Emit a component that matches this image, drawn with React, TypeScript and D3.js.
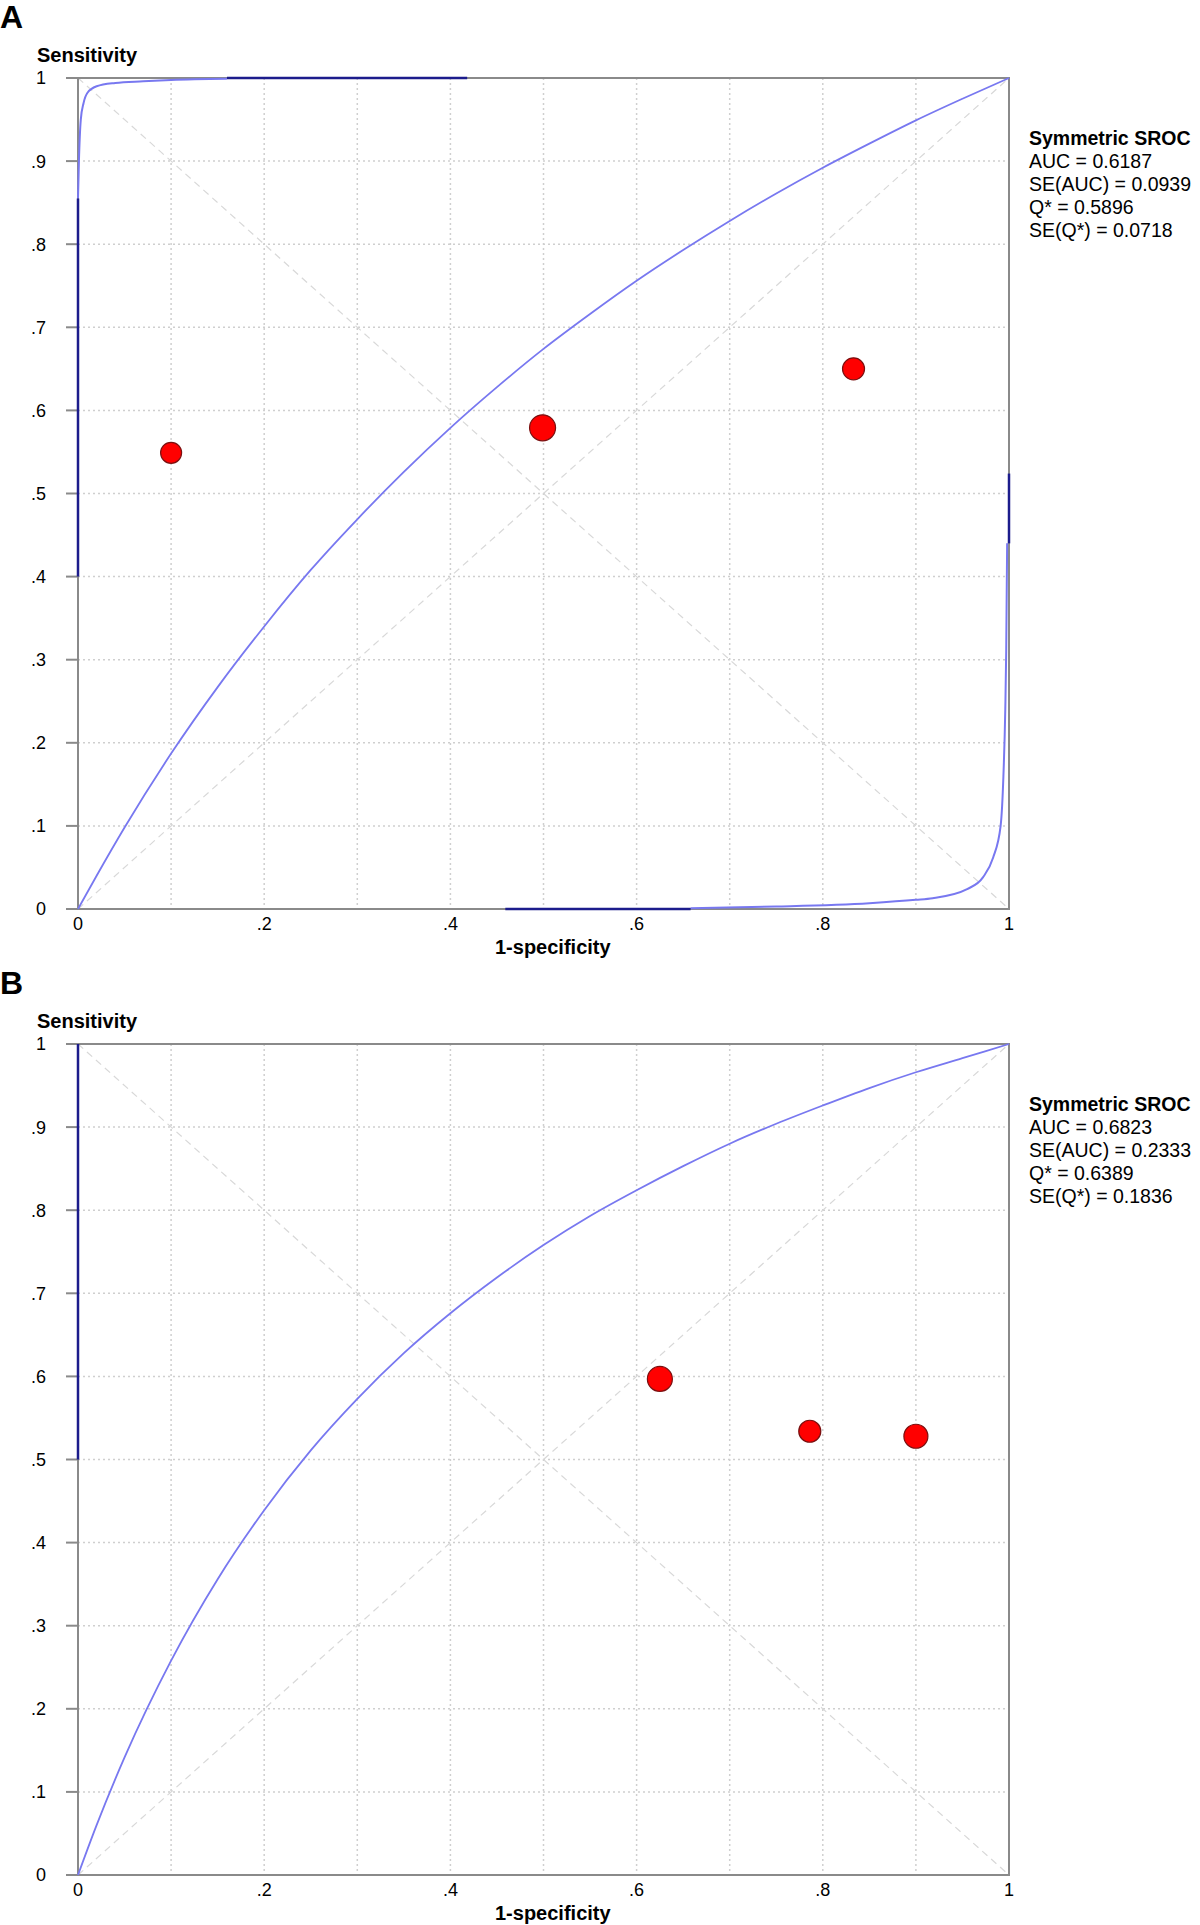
import React from "react";
import * as d3 from "d3";

// ---------- data ----------
const ticks = [0, 0.1, 0.2, 0.3, 0.4, 0.5, 0.6, 0.7, 0.8, 0.9, 1];
const yTickLabels = ["0", ".1", ".2", ".3", ".4", ".5", ".6", ".7", ".8", ".9", "1"];
const xTicks = [0, 0.2, 0.4, 0.6, 0.8, 1];
const xTickLabels = ["0", ".2", ".4", ".6", ".8", "1"];

// Panel A
const aStudyX = [0.1, 0.499, 0.833];
const aStudyY = [0.549, 0.579, 0.65];
const aStudyR = [10.5, 13, 11];
const aCurveX = [0, 0.02, 0.05, 0.1, 0.15, 0.2, 0.25, 0.3, 0.35, 0.4, 0.45, 0.5, 0.55, 0.6, 0.65, 0.7, 0.75, 0.8, 0.85, 0.9, 0.95, 1];
const aCurveY = [0, 0.04, 0.098, 0.187, 0.267, 0.34, 0.408, 0.469, 0.526, 0.579, 0.628, 0.674, 0.716, 0.756, 0.793, 0.828, 0.861, 0.892, 0.921, 0.949, 0.975, 1];
const aUpperX = [0, 0.001, 0.003, 0.006, 0.01, 0.02, 0.04, 0.07, 0.1, 0.16];
const aUpperY = [0.855, 0.9, 0.95, 0.97, 0.982, 0.99, 0.994, 0.996, 0.9976, 0.999];
const aLowerX = [0.658, 0.75, 0.85, 0.9, 0.918, 0.955, 0.972, 0.983, 0.991, 0.994, 0.996, 0.997, 0.998];
const aLowerY = [0.001, 0.003, 0.007, 0.011, 0.013, 0.024, 0.038, 0.062, 0.1, 0.16, 0.24, 0.31, 0.44];
// dark edge segments: [x1, y1, x2, y2]
const aEdges = [
  [0, 0.4, 0, 0.855],
  [0.16, 1, 0.418, 1],
  [0.459, 0, 0.658, 0],
  [1, 0.44, 1, 0.524],
];
const aLegend = ["Symmetric SROC", "AUC = 0.6187", "SE(AUC) = 0.0939", "Q* = 0.5896", "SE(Q*) = 0.0718"];

// Panel B
const bStudyX = [0.625, 0.786, 0.9];
const bStudyY = [0.597, 0.534, 0.528];
const bStudyR = [12.5, 11, 12];
const bCurveX = [0, 0.02, 0.05, 0.1, 0.15, 0.2, 0.25, 0.3, 0.35, 0.4, 0.45, 0.5, 0.55, 0.6, 0.65, 0.7, 0.75, 0.8, 0.85, 0.9, 0.95, 1];
const bCurveY = [0, 0.06, 0.1415, 0.258, 0.356, 0.439, 0.511, 0.573, 0.628, 0.676, 0.719, 0.758, 0.793, 0.824, 0.853, 0.88, 0.904, 0.926, 0.947, 0.966, 0.983, 1];
const bEdges = [[0, 0.5, 0, 1]];
const bLegend = ["Symmetric SROC", "AUC = 0.6823", "SE(AUC) = 0.2333", "Q* = 0.6389", "SE(Q*) = 0.1836"];

// ---------- styles ----------
const FONT = "'Liberation Sans', Arial, Helvetica, sans-serif";
const LIGHT = "#7878f0";
const DARK = "#1c1c8c";
const AXIS = "#8a8a8a";

const L = 78, W = 931, H = 831;

type PanelProps = {
  top: number;
  letter: string;
  sx: number[]; sy: number[]; sr: number[];
  cx: number[]; cy: number[];
  extra: { x: number[]; y: number[] }[];
  edges: number[][];
  legend: string[];
};

function Panel({ top, letter, sx, sy, sr, cx, cy, extra, edges, legend }: PanelProps) {
  const x = d3.scaleLinear().domain([0, 1]).range([L, L + W]);
  const y = d3.scaleLinear().domain([0, 1]).range([top + H, top]);
  const line = d3.line<[number, number]>().x(d => x(d[0])).y(d => y(d[1])).curve(d3.curveMonotoneX);
  const mainPts = cx.map((v, i) => [v, cy[i]] as [number, number]);
  const clipId = "clip" + letter;
  return (
    <g>
      <text x={0} y={top - 50} fontFamily={FONT} fontWeight="bold" fontSize={32}>{letter}</text>
      <text x={37} y={top - 16} fontFamily={FONT} fontWeight="bold" fontSize={20}>Sensitivity</text>
      <defs>
        <clipPath id={clipId}>
          <rect x={L - 1} y={top - 1} width={W + 2} height={H + 2} />
        </clipPath>
      </defs>
      {/* grid */}
      {ticks.slice(1, -1).map(t => (
        <g key={"g" + t}>
          <line x1={x(t)} x2={x(t)} y1={top} y2={top + H} stroke="#cfcfcf" strokeWidth={1.5} strokeDasharray="2,3" />
          <line x1={L} x2={L + W} y1={y(t)} y2={y(t)} stroke="#cfcfcf" strokeWidth={1.5} strokeDasharray="2,3" />
        </g>
      ))}
      {/* diagonals */}
      <line x1={x(0)} y1={y(0)} x2={x(1)} y2={y(1)} stroke="#d8d8d8" strokeWidth={1.2} strokeDasharray="7,5" />
      <line x1={x(0)} y1={y(1)} x2={x(1)} y2={y(0)} stroke="#d8d8d8" strokeWidth={1.2} strokeDasharray="7,5" />
      {/* frame and ticks */}
      <rect x={L} y={top} width={W} height={H} fill="none" stroke={AXIS} strokeWidth={2} />
      {ticks.map(t => (
        <line key={"t" + t} x1={L - 12} x2={L} y1={y(t)} y2={y(t)} stroke={AXIS} strokeWidth={2} />
      ))}
      {/* curves */}
      <g clipPath={`url(#${clipId})`}>
        <path d={line(mainPts) || ""} fill="none" stroke={LIGHT} strokeWidth={1.8} />
        {extra.map((e, k) => (
          <path key={"e" + k} d={line(e.x.map((v, i) => [v, e.y[i]] as [number, number])) || ""}
            fill="none" stroke={LIGHT} strokeWidth={2} />
        ))}
      </g>
      {edges.map((s, k) => (
        <line key={"d" + k} x1={x(s[0])} y1={y(s[1])} x2={x(s[2])} y2={y(s[3])} stroke={DARK} strokeWidth={2.5} />
      ))}
      {/* tick labels */}
      {ticks.map((t, i) => (
        <text key={"yl" + t} x={46} y={y(t)} dy="0.36em" textAnchor="end" fontFamily={FONT} fontSize={18}>{yTickLabels[i]}</text>
      ))}
      {xTicks.map((t, i) => (
        <text key={"xl" + t} x={x(t)} y={top + H + 21} textAnchor="middle" fontFamily={FONT} fontSize={18}>{xTickLabels[i]}</text>
      ))}
      <text x={x(0.51)} y={top + H + 45} textAnchor="middle" fontFamily={FONT} fontWeight="bold" fontSize={20}>1-specificity</text>
      {/* points */}
      {sx.map((v, i) => (
        <circle key={"p" + i} cx={x(v)} cy={y(sy[i])} r={sr[i]} fill="#ff0000" stroke="#7a1010" strokeWidth={1.2} />
      ))}
      {/* legend */}
      {legend.map((s, i) => (
        <text key={"lg" + i} x={1029} y={top + 67 + i * 23} fontFamily={FONT} fontSize={19.5} fontWeight={i === 0 ? "bold" : "normal"}>{s}</text>
      ))}
    </g>
  );
}

export default function App() {
  return (
    <svg width={1200} height={1925} style={{ display: "block", position: "absolute", left: 0, top: 0, background: "#fff" }}>
      <rect x={0} y={0} width={1200} height={1925} fill="#fff" />
      <Panel top={78} letter="A" sx={aStudyX} sy={aStudyY} sr={aStudyR} cx={aCurveX} cy={aCurveY}
        extra={[{ x: aUpperX, y: aUpperY }, { x: aLowerX, y: aLowerY }]} edges={aEdges} legend={aLegend} />
      <Panel top={1044} letter="B" sx={bStudyX} sy={bStudyY} sr={bStudyR} cx={bCurveX} cy={bCurveY}
        extra={[]} edges={bEdges} legend={bLegend} />
    </svg>
  );
}
